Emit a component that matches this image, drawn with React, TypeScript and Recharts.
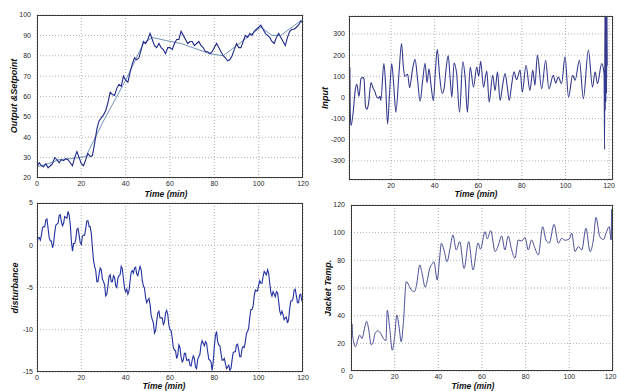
import React from 'react';
import { LineChart, Line, XAxis, YAxis, CartesianGrid } from 'recharts';

const minutes = [
  0, 1, 2, 3, 4, 5, 6, 7, 8, 9, 10, 11, 12, 13, 14, 15, 16, 17, 18, 19, 20,
  21, 22, 23, 24, 25, 26, 27, 28, 29, 30, 31, 32, 33, 34, 35, 36, 37, 38, 39, 40,
  41, 42, 43, 44, 45, 46, 47, 48, 49, 50, 51, 52, 53, 54, 55, 56, 57, 58, 59, 60,
  61, 62, 63, 64, 65, 66, 67, 68, 69, 70, 71, 72, 73, 74, 75, 76, 77, 78, 79, 80,
  81, 82, 83, 84, 85, 86, 87, 88, 89, 90, 91, 92, 93, 94, 95, 96, 97, 98, 99, 100,
  101, 102, 103, 104, 105, 106, 107, 108, 109, 110, 111, 112, 113, 114, 115, 116, 117, 118, 119, 120,
];

const outputValues = [
  25.5, 27.5, 26, 25.5, 27, 25, 26, 27, 30, 29, 27.5, 29, 28.5, 29.5, 29, 27.5, 26, 30, 33, 30, 27,
  26, 29, 32, 30.5, 31, 37, 44, 48, 49.5, 51, 53, 57, 62, 61, 60.5, 64, 66, 65, 70, 68,
  67, 72, 76, 79, 78, 79, 83, 87, 86, 88, 91, 88, 85, 84, 86, 84, 83, 81, 84, 84,
  83, 86, 88, 88, 92, 90, 88, 86, 87, 87, 85, 86, 87, 85, 84, 82, 82, 81, 82, 84,
  86, 84, 82, 80, 79, 77.5, 78, 80, 83, 86, 84, 84, 87, 90, 89, 91, 90, 92, 93, 94,
  95, 93, 91, 90, 89, 87, 86, 89, 91, 89, 87, 85, 89, 92, 93, 93, 94, 95, 97, 96,
];

const setpointTime = [0, 5, 10, 15, 22, 30, 40, 48, 52, 58, 65, 78, 84, 90, 96, 101, 106, 110, 115, 120];
const setpointValues = [25.5, 27, 29, 29.5, 30.5, 48, 68, 86, 89, 87.5, 86, 81, 80, 85, 90, 94, 90, 90, 94, 98];

const inputTime = [
  0.7, 0.8, 0.9, 1.0, 1.1, 1.25, 1.65, 2.7, 3.5, 4.3, 5.3, 6.2, 7.0, 7.6, 8.3, 9.0, 9.6, 10.8, 11.8, 12.5,
  13.1, 14.1, 14.9, 15.3, 16.7, 17.5, 18.4, 19.3, 20.3, 21.2, 22.2, 23.6, 24.8, 25.6, 26.3, 27.6, 28.5, 29.8,
  31, 32.1, 33.3, 34.5, 35.6, 36.5, 37.4, 38.3, 39.4, 40.3, 41.2, 42.2, 43.4, 44.3, 45.2, 46.2, 47.1, 47.9,
  48.9, 50.1, 51.4, 52.9, 54, 55, 56.3, 57.8, 59.3, 60.2, 61.1, 62.4, 63.9, 65, 66.6, 67.7, 68.8, 70, 71.2,
  72.3, 73.3, 74.2, 75.3, 76.4, 77.6, 79.2, 80.2, 81.9, 83.7, 85, 86, 87.1, 89.1, 90.9, 92.4, 94.4, 95.5,
  96.7, 98.2, 99.8, 101.4, 103.3, 104.4, 106.4, 108.2, 110.5, 112.4, 113.6, 114.7, 116.6, 117.7, 117.95,
  118.1, 118.25, 118.4, 118.55, 118.7, 118.85, 119.0, 119.15,
];
const inputValues = [
  195, -40, 170, -100, 140, -60, -133, -62, 30, 62, 5, 89, 95, 86, -45, -55, -33, 70, 43, 30,
  10, -4, 5, -14, 160, 60, -125, 20, 160, 60, -70, 110, 255, 150, 100, 110, 46, 130,
  180, 90, -18, 80, 162, 70, 135, 60, -15, 120, 228, 110, 20, 40, 130, 198, 90, 2,
  163, 110, -70, 168, 89, -70, 144, 49, 144, 100, 171, 49, 125, -22, 105, 33, 121, -14, 60,
  113, 50, -14, 60, 121, 84, 129, 25, 152, 33, 129, 57, 200, 41, 176, 41, 105, 68,
  97, 65, 192, 2, 105, 81, 176, -6, 224, 49, 121, 65, 160, 113, -245,
  420, -60, 420, -20, 420, 20, 420, 150,
];

// disturbance read at whole minutes
const disturbanceValues = [
  0.1, 0.9, 1.2, 2.2, 3.0, 2.0, 0.5, -0.3, 1.5, 2.5, 3.5, 2.8, 2.6, 3.3, 4.0, 2.5, -0.7, 0.2, 1.9, 1.2, 0.1,
  1.2, 2.0, 2.9, 2.2, -0.3, -2.5, -4.3, -3.4, -2.9, -4.3, -6.0, -4.8, -3.5, -4.3, -3.8, -5.0, -3.6, -2.5, -4.0, -5.5,
  -5.8, -4.2, -3.0, -2.7, -3.4, -3.0, -2.9, -4.8, -6.2, -6.5, -7.0, -8.8, -10.4, -9.0, -7.8, -8.6, -9.4, -8.0, -8.2, -10.0,
  -11.0, -12.4, -13.4, -11.8, -13.2, -13.6, -12.8, -13.6, -14.2, -13.6, -13.4, -14.6, -13.2, -11.8, -11.6, -11.4, -12.6, -13.6, -14.8, -12.0,
  -10.2, -11.8, -12.8, -13.6, -14.0, -14.4, -14.8, -13.6, -12.6, -11.8, -12.4, -13.2, -12.0, -11.4, -10.2, -8.5, -7.6, -6.0, -5.4, -4.7,
  -4.5, -3.7, -3.3, -2.9, -4.5, -6.0, -5.8, -5.5, -6.6, -8.2, -8.2, -8.6, -9.2, -7.5, -6.6, -5.3, -6.0, -6.8, -5.8, -6.6,
];
// disturbance read at the half minutes in between (the fine jitter)
const disturbanceHalfValues = [
  0.9, 0.6, 2.1, 2.2, 3.1, 0.9, 0.5, 0.2, 2.4, 2.6, 3.6, 2.3, 3.4, 3.2, 3.6, 0.5, 0.2, 0.7, 2.0, 0.3,
  1.1, 1.2, 2.9, 2.2, 1.4, -1.8, -3.0, -4.3, -2.7, -4.0, -4.7, -5.8, -3.7, -4.3, -3.6, -4.8, -3.9, -3.5, -2.8, -5.1,
  -5.2, -5.4, -3.2, -3.3, -2.6, -3.6, -2.5, -4.2, -5.1, -6.8, -6.3, -8.3, -9.2, -10.1, -8.0, -8.6, -8.6, -9.1, -7.7, -9.5,
  -10.1, -12.1, -12.5, -13.0, -12.1, -13.8, -12.8, -13.6, -13.5, -14.3, -13.1, -14.4, -13.5, -12.9, -11.3, -11.9, -11.6, -13.5, -13.8, -13.8,
  -10.7, -11.4, -11.9, -13.6, -13.4, -14.6, -14.2, -14.6, -12.7, -12.6, -11.7, -13.2, -12.2, -12.1, -10.4, -9.8, -7.6, -7.2, -5.3, -5.4,
  -4.2, -4.5, -3.1, -3.5, -3.3, -5.6, -5.5, -6.1, -5.6, -7.8, -7.8, -8.8, -8.5, -8.8, -6.6, -6.3, -5.2, -6.8, -5.9, -6.6,
];

const jacketTime = [
  0, 0.15, 0.3, 0.45, 0.6, 1.2, 2, 3, 4, 5, 6.5, 7.2, 8, 9.3, 10, 11, 12.2, 13.5, 15, 16, 16.6, 17.8, 18.9,
  20, 21, 22, 23, 24, 25.3, 26.5, 27.6, 29.1, 30, 31.5, 32.5, 34, 35, 36, 37, 38, 39.5, 40.5, 41.4, 42.5, 44,
  45.3, 46.7, 48.2, 49.8, 51.8, 53.9, 55.9, 58.2, 59.3, 61.4, 62.4, 64, 66, 67.5, 69, 70.5, 72, 73.6, 75.1,
  76.6, 78.2, 79.7, 81.2, 82.7, 84.2, 85.8, 87.8, 89.3, 90.8, 93, 95, 96.5, 98, 100, 101.1, 102.6, 104.1,
  105.7, 107.6, 109.5, 111, 112.2, 114, 115.6, 116.8, 118.3, 119.1, 119.45, 119.6, 119.75, 119.9, 120,
];
const jacketValues = [
  25, 35, 26, 34, 29, 21, 17.5, 22, 26, 23.5, 33, 36, 31, 19, 20, 27, 29, 27.5, 23, 22, 44, 30, 15,
  25, 40.5, 32, 21, 35, 64.6, 62, 58.6, 57.4, 62, 76.6, 71, 60.5, 66, 74, 77, 79, 65.8, 80, 92.3, 88, 79,
  88, 98.3, 87.5, 93.5, 74, 93.5, 73, 92.5, 88, 100.7, 95.5, 101.5, 86.3, 91, 97.6, 87.5, 97.6, 87.5, 81.5,
  94.7, 94, 96.5, 87.5, 94.7, 89, 83.9, 104.3, 94.7, 92.5, 106, 92.3, 96, 94.5, 95.5, 99.6, 86.3, 90,
  87.5, 103.2, 86.3, 94.7, 111, 97, 95, 99.6, 104.3, 94.7, 117, 95, 117, 98, 106,
];

const fullTimeTicks = [0, 20, 40, 60, 80, 100, 120];
const inputTimeTicks = [20, 40, 60, 80, 100, 120];
const outputTicks = [20, 30, 40, 50, 60, 70, 80, 90, 100];
const inputTicks = [-300, -200, -100, 0, 100, 200, 300];
const disturbanceTicks = [-15, -10, -5, 0, 5];
const jacketTicks = [0, 20, 40, 60, 80, 100, 120];

const toRows = (t: number[], v: number[]) => t.map((x, i) => ({ t: x, v: v[i] }));

const outputData = toRows(minutes, outputValues);
const setpointData = toRows(setpointTime, setpointValues);
const inputData = toRows(inputTime, inputValues);
const disturbanceData = minutes.flatMap((m, i) =>
  i < disturbanceHalfValues.length
    ? [
        { t: m, v: disturbanceValues[i] },
        { t: m + 0.5, v: disturbanceHalfValues[i] },
      ]
    : [{ t: m, v: disturbanceValues[i] }]
);
const jacketData = toRows(jacketTime, jacketValues);

type Rect = { left: number; top: number; width: number; height: number };
type Series = { data: { t: number; v: number }[]; color: string; width: number; curve: any; name: string };

const FONT = '"Liberation Sans", Arial, sans-serif';
const TICK_FONT = 7;

function makeXTick(maxX: number) {
  return function XTick(props: any) {
    const { x, y, payload } = props;
    const label = String(payload.value);
    const half = label.length * TICK_FONT * 0.278;
    const cx = Math.min(x, maxX - half);
    return (
      <text x={cx} y={y} dy="0.71em" textAnchor="middle" fontSize={TICK_FONT} fill="#2a2a2a" fontFamily={FONT}>
        {label}
      </text>
    );
  };
}

function Panel(props: {
  box: Rect;
  plot: Rect;
  xDomain: [number, number];
  yDomain: [number, number];
  xTicks: number[];
  yTicks: number[];
  yTickGap: number;
  series: Series[];
}) {
  const { box, plot } = props;
  const margin = {
    top: plot.top - box.top,
    right: box.left + box.width - (plot.left + plot.width),
    bottom: 0,
    left: 0,
  };
  const yAxisWidth = plot.left - box.left;
  const xAxisHeight = box.top + box.height - (plot.top + plot.height);
  const tickStyle = { fontSize: TICK_FONT, fill: '#2a2a2a', fontFamily: FONT };
  const XTick = makeXTick(box.width - 0.5);
  return (
    <div style={{ position: 'absolute', left: box.left, top: box.top, width: box.width, height: box.height }}>
      <LineChart width={box.width} height={box.height} margin={margin}>
        <CartesianGrid stroke="#9c9c9c" strokeDasharray="1 2" strokeWidth={0.8} />
        <XAxis
          type="number"
          dataKey="t"
          domain={props.xDomain}
          ticks={props.xTicks}
          interval={0}
          allowDataOverflow
          axisLine={false}
          tickLine={false}
          tickSize={0}
          tickMargin={3}
          height={xAxisHeight}
          tick={<XTick />}
        />
        <YAxis
          type="number"
          domain={props.yDomain}
          ticks={props.yTicks}
          interval={0}
          allowDataOverflow
          axisLine={false}
          tickLine={false}
          tickSize={0}
          tickMargin={props.yTickGap}
          width={yAxisWidth}
          tick={tickStyle}
        />
        {props.series.map((s) => (
          <Line
            key={s.name}
            name={s.name}
            data={s.data}
            dataKey="v"
            type={s.curve}
            stroke={s.color}
            strokeWidth={s.width}
            dot={false}
            activeDot={false}
            isAnimationActive={false}
          />
        ))}
      </LineChart>
      <div
        style={{
          position: 'absolute',
          left: plot.left - box.left,
          top: plot.top - box.top,
          width: plot.width,
          height: plot.height,
          border: '1px solid #3a3a3a',
          boxSizing: 'border-box',
          pointerEvents: 'none',
        }}
      />
    </div>
  );
}

const labelBase: React.CSSProperties = {
  position: 'absolute',
  fontFamily: FONT,
  fontWeight: 'bold',
  fontStyle: 'italic',
  color: '#111',
  whiteSpace: 'nowrap',
  lineHeight: 1,
};

function YTitle({ text, x, y }: { text: string; x: number; y: number }) {
  return (
    <div style={{ ...labelBase, fontSize: 9, left: x, top: y, transform: 'translate(-50%, -50%) rotate(-90deg)' }}>
      {text}
    </div>
  );
}

function XTitle({ text, x, y }: { text: string; x: number; y: number }) {
  return (
    <div style={{ ...labelBase, fontSize: 8.5, left: x, top: y, transform: 'translate(-50%, -50%)' }}>{text}</div>
  );
}

export default function App() {
  return (
    <div style={{ position: 'absolute', left: 0, top: 0, width: 617, height: 391, background: '#fff', overflow: 'hidden' }}>
      <Panel
        box={{ left: 0, top: 0, width: 310, height: 200 }}
        plot={{ left: 37, top: 15, width: 266, height: 163 }}
        xDomain={[0, 120]}
        yDomain={[20, 100]}
        xTicks={fullTimeTicks}
        yTicks={outputTicks}
        yTickGap={6}
        series={[
          { name: 'setpoint', data: setpointData, color: '#6f93b8', width: 1, curve: 'linear' },
          { name: 'output', data: outputData, color: '#1f2a8a', width: 1.1, curve: 'linear' },
        ]}
      />
      <Panel
        box={{ left: 310, top: 0, width: 307, height: 200 }}
        plot={{ left: 349, top: 16, width: 264, height: 164 }}
        xDomain={[0.7, 121.8]}
        yDomain={[-390, 385]}
        xTicks={inputTimeTicks}
        yTicks={inputTicks}
        yTickGap={4}
        series={[{ name: 'input', data: inputData, color: '#353a8c', width: 1.1, curve: 'monotoneX' }]}
      />
      <Panel
        box={{ left: 0, top: 195, width: 310, height: 196 }}
        plot={{ left: 37, top: 203, width: 266, height: 169 }}
        xDomain={[0, 120]}
        yDomain={[-15, 5]}
        xTicks={fullTimeTicks}
        yTicks={disturbanceTicks}
        yTickGap={4}
        series={[{ name: 'disturbance', data: disturbanceData, color: '#2331a0', width: 1.1, curve: 'linear' }]}
      />
      <Panel
        box={{ left: 310, top: 195, width: 307, height: 196 }}
        plot={{ left: 351, top: 205, width: 262, height: 166 }}
        xDomain={[0, 120]}
        yDomain={[0, 120]}
        xTicks={fullTimeTicks}
        yTicks={jacketTicks}
        yTickGap={6}
        series={[{ name: 'jacket', data: jacketData, color: '#4b5096', width: 1, curve: 'monotoneX' }]}
      />
      <YTitle text="Output &Setpoint" x={14} y={96} />
      <YTitle text="Input" x={325} y={98} />
      <YTitle text="disturbance" x={15} y={288} />
      <YTitle text="Jacket Temp." x={328} y={288} />
      <XTitle text="Time (min)" x={166} y={194} />
      <XTitle text="Time (min)" x={476} y={194} />
      <XTitle text="Time (min)" x={164} y={386} />
      <XTitle text="Time (min)" x={473} y={386} />
    </div>
  );
}
